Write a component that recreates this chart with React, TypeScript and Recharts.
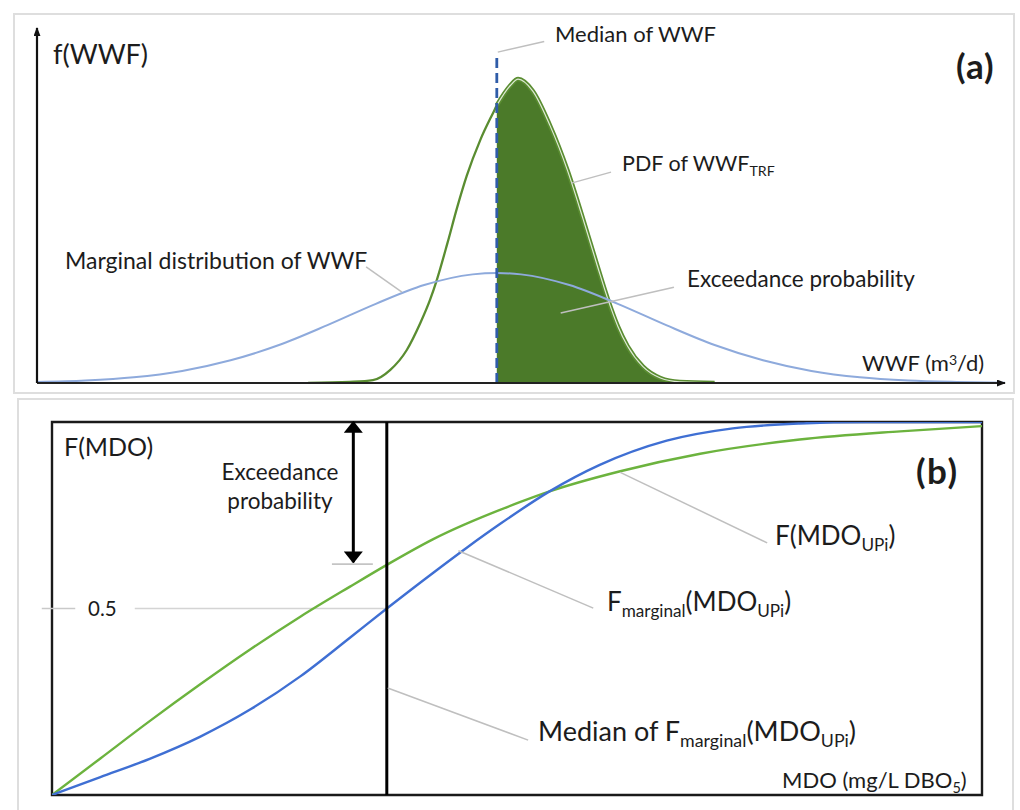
import React from "react";
import {
  ComposedChart,
  Line,
  Area,
  XAxis,
  YAxis,
  ReferenceLine,
  ReferenceArea,
} from "recharts";

// ---------- Panel (a): densities of WWF ----------
const MARGINAL_X = [0, 5, 10, 15, 20, 25, 30, 35, 40, 45, 47.5, 50, 55, 60, 65, 70, 75, 80, 85, 90, 95, 100];
const MARGINAL_Y = [0.3, 0.7, 1.6, 3.4, 6.4, 10.7, 16.3, 22.3, 27.6, 30.6, 31.0, 30.6, 27.6, 22.3, 16.3, 10.7, 6.4, 3.4, 1.6, 0.7, 0.3, 0.1];

const PDF_X = [28, 32.3, 34.7, 36.5, 38.2, 39.6, 40.6, 41.3, 42.4, 43.4, 44.4, 45.8, 47.1, 47.5, 48.9, 49.7, 51.2, 53.0, 54.8, 56.4, 57.9, 59.0, 60.0, 61.0, 62.6, 64.4, 66.4, 70];
const PDF_Y = [0, 0.3, 0.8, 3.7, 9.3, 16.9, 23.4, 29.0, 39.4, 49.4, 58.4, 68.5, 76.0, 78.2, 83.8, 85.6, 82.3, 72.5, 59.9, 46.3, 32.9, 23.4, 16.0, 10.4, 4.6, 1.4, 0.3, 0];

const MEDIAN_WWF = 47.5;

// ---------- Panel (b): CDFs of MDO ----------
const MARGINAL_CDF_X = [0, 5.2, 10.5, 15.9, 21.3, 26.7, 32.0, 36.0, 41.0, 44.6, 48.2, 53.5, 58.9, 66.1, 73.2, 80.4, 87.6, 100];
const MARGINAL_CDF_Y = [0, 0.048, 0.097, 0.156, 0.229, 0.318, 0.421, 0.5, 0.596, 0.663, 0.727, 0.814, 0.885, 0.95, 0.983, 0.996, 1.0, 1.0];

const UPI_CDF_X = [0, 5.2, 10.5, 15.9, 21.3, 26.7, 32.0, 36.0, 41.0, 50.3, 53.5, 61.1, 69.7, 80.4, 91.2, 100];
const UPI_CDF_Y = [0, 0.098, 0.198, 0.296, 0.39, 0.478, 0.558, 0.617, 0.686, 0.785, 0.814, 0.868, 0.915, 0.953, 0.975, 0.989];

const MEDIAN_MDO = 36.0;
const EXCEEDANCE_LEVEL = 0.619;

const marginalData = MARGINAL_X.map((x, i) => ({ x, y: MARGINAL_Y[i] }));
const pdfData = PDF_X.map((x, i) => ({ x, y: PDF_Y[i] }));
const pdfFillData = pdfData.filter((d) => d.x >= MEDIAN_WWF);
const marginalCdf = MARGINAL_CDF_X.map((x, i) => ({ x, y: MARGINAL_CDF_Y[i] }));
const upiCdf = UPI_CDF_X.map((x, i) => ({ x, y: UPI_CDF_Y[i] }));

const FONT = 'Lato, "Open Sans", "DejaVu Sans", sans-serif';
const LEADER = "#bfbfbf";

function Txt(props: {
  x: number;
  cy: number;
  size: number;
  bold?: boolean;
  center?: boolean;
  spacing?: number;
  children: React.ReactNode;
}) {
  const { x, cy, size, bold, center, spacing, children } = props;
  return (
    <div
      style={{
        position: "absolute",
        left: x,
        top: cy - 0.529 * size,
        fontSize: size,
        lineHeight: `${size}px`,
        fontFamily: FONT,
        fontWeight: bold ? 700 : 400,
        letterSpacing: spacing ? `${spacing}px` : undefined,
        color: "#1c1c1c",
        whiteSpace: "nowrap",
        transform: center ? "translateX(-50%)" : undefined,
        zIndex: 5,
      }}
    >
      {children}
    </div>
  );
}

const Sub = ({ children }: { children: React.ReactNode }) => (
  <span style={{ fontSize: "0.66em", position: "relative", top: "0.32em" }}>{children}</span>
);
const Sup = ({ children }: { children: React.ReactNode }) => (
  <span style={{ fontSize: "0.64em", position: "relative", top: "-0.45em" }}>{children}</span>
);

export default function App() {
  return (
    <div
      style={{
        position: "absolute",
        left: 0,
        top: 0,
        width: 1020,
        height: 810,
        background: "#fff",
        overflow: "hidden",
      }}
    >
      <svg width={0} height={0} style={{ position: "absolute" }}>
        <defs>
          <marker
            id="axisArrow"
            viewBox="0 0 10 10"
            refX={9}
            refY={5}
            markerWidth={9}
            markerHeight={7}
            markerUnits="userSpaceOnUse"
            preserveAspectRatio="none"
            orient="auto-start-reverse"
          >
            <path d="M0,0 L10,5 L0,10 z" fill="#111" />
          </marker>
          <marker
            id="bigArrow"
            viewBox="0 0 10 10"
            refX={9}
            refY={5}
            markerWidth={12}
            markerHeight={19}
            markerUnits="userSpaceOnUse"
            preserveAspectRatio="none"
            orient="auto-start-reverse"
          >
            <path d="M0,0 L10,5 L0,10 z" fill="#000" />
          </marker>
        </defs>
      </svg>

      {/* panel frames */}
      <div
        style={{
          position: "absolute",
          left: 13,
          top: 13,
          width: 1002,
          height: 381,
          border: "2px solid #dedede",
          boxSizing: "border-box",
        }}
      />
      <div
        style={{
          position: "absolute",
          left: 17,
          top: 398,
          width: 997,
          height: 430,
          border: "2px solid #dedede",
          boxSizing: "border-box",
        }}
      />

      {/* ---------- (a) ---------- */}
      <div style={{ position: "absolute", left: 0, top: 0 }}>
        <ComposedChart width={1020} height={400} margin={{ top: 28, right: 15, bottom: 17, left: 37 }}>
          <XAxis dataKey="x" type="number" domain={[0, 100]} hide allowDataOverflow />
          <YAxis type="number" domain={[0, 100]} hide allowDataOverflow />
          <Area
            data={pdfFillData}
            dataKey="y"
            type="monotone"
            fill="#4b7a29"
            fillOpacity={1}
            stroke="none"
            isAnimationActive={false}
          />
          <Line data={pdfData} dataKey="y" type="monotone" stroke="#5a8d31" strokeWidth={2.3} dot={false} activeDot={false} isAnimationActive={false} />
          <Line data={pdfFillData} dataKey="y" type="monotone" stroke="#5a8d31" strokeWidth={4.5} dot={false} activeDot={false} isAnimationActive={false} />
          <Line data={pdfFillData} dataKey="y" type="monotone" stroke="#dfead6" strokeWidth={1.2} dot={false} activeDot={false} isAnimationActive={false} />
          <Line data={marginalData} dataKey="y" type="monotone" stroke="#8eaadc" strokeWidth={2} dot={false} activeDot={false} isAnimationActive={false} />
          <ReferenceLine
            segment={[{ x: MEDIAN_WWF, y: 0 }, { x: MEDIAN_WWF, y: 92.4 }]}
            stroke="#2f5ca8"
            strokeWidth={2.8}
            strokeDasharray="10 5"
          />
          {/* axes */}
          <ReferenceLine segment={[{ x: 0, y: 0 }, { x: 100, y: 0 }]} stroke="#222" strokeWidth={2.2} markerEnd="url(#axisArrow)" />
          <ReferenceLine segment={[{ x: 0, y: 0 }, { x: 0, y: 100 }]} stroke="#111" strokeWidth={2.2} markerEnd="url(#axisArrow)" />
          {/* leaders */}
          <ReferenceLine segment={[{ x: 47.6, y: 93.2 }, { x: 52.4, y: 96.2 }]} stroke={LEADER} strokeWidth={1.5} />
          <ReferenceLine segment={[{ x: 55.2, y: 56.3 }, { x: 59.3, y: 59.4 }]} stroke={LEADER} strokeWidth={1.5} />
          <ReferenceLine segment={[{ x: 54.1, y: 19.7 }, { x: 65.8, y: 27.0 }]} stroke={LEADER} strokeWidth={1.5} />
          <ReferenceLine segment={[{ x: 34.0, y: 32.7 }, { x: 37.7, y: 25.6 }]} stroke={LEADER} strokeWidth={1.5} />
        </ComposedChart>
      </div>

      {/* ---------- (b) ---------- */}
      <div style={{ position: "absolute", left: 0, top: 400 }}>
        <ComposedChart width={1020} height={410} margin={{ top: 22, right: 38, bottom: 15, left: 52 }}>
          <XAxis dataKey="x" type="number" domain={[0, 100]} hide allowDataOverflow />
          <YAxis type="number" domain={[0, 1]} hide allowDataOverflow />
          <ReferenceArea x1={0} x2={100} y1={0} y2={1} fill="none" fillOpacity={0} stroke="#1a1a1a" strokeWidth={2.4} />
          <ReferenceLine segment={[{ x: -1.1, y: 0.5 }, { x: 2.5, y: 0.5 }]} stroke="#c9c9c9" strokeWidth={1.5} ifOverflow="visible" />
          <ReferenceLine segment={[{ x: 8.9, y: 0.5 }, { x: MEDIAN_MDO, y: 0.5 }]} stroke="#d4d4d4" strokeWidth={1.5} />
          <ReferenceLine segment={[{ x: 30.1, y: EXCEEDANCE_LEVEL }, { x: 34.5, y: EXCEEDANCE_LEVEL }]} stroke="#c4c4c4" strokeWidth={1.8} />
          <Line data={upiCdf} dataKey="y" type="monotone" stroke="#6cb33e" strokeWidth={2.4} dot={false} activeDot={false} isAnimationActive={false} />
          <Line data={marginalCdf} dataKey="y" type="monotone" stroke="#3f6fd3" strokeWidth={2.4} dot={false} activeDot={false} isAnimationActive={false} />
          <ReferenceLine x={MEDIAN_MDO} stroke="#000" strokeWidth={3} />
          <ReferenceLine
            segment={[{ x: 32.4, y: 1.0 }, { x: 32.4, y: 0.624 }]}
            stroke="#000"
            strokeWidth={3}
            markerStart="url(#bigArrow)"
            markerEnd="url(#bigArrow)"
          />
          {/* leaders */}
          <ReferenceLine segment={[{ x: 61.1, y: 0.865 }, { x: 76.9, y: 0.676 }]} stroke={LEADER} strokeWidth={1.5} />
          <ReferenceLine segment={[{ x: 43.7, y: 0.655 }, { x: 58.2, y: 0.501 }]} stroke={LEADER} strokeWidth={1.5} />
          <ReferenceLine segment={[{ x: 36.1, y: 0.287 }, { x: 51.2, y: 0.147 }]} stroke={LEADER} strokeWidth={1.5} />
        </ComposedChart>
      </div>

      {/* ---------- texts (a) ---------- */}
      <Txt x={53} cy={54} size={27}>f(WWF)</Txt>
      <Txt x={555} cy={35} size={22}>Median of WWF</Txt>
      <Txt x={956} cy={67} size={35} bold spacing={1}>(a)</Txt>
      <Txt x={622} cy={164.5} size={21.5}>
        PDF of WWF<Sub>TRF</Sub>
      </Txt>
      <Txt x={687} cy={279.5} size={22.5}>Exceedance probability</Txt>
      <Txt x={65} cy={261} size={23}>Marginal distribution of WWF</Txt>
      <Txt x={862} cy={364} size={22}>
        WWF (m<Sup>3</Sup>/d)
      </Txt>

      {/* ---------- texts (b) ---------- */}
      <Txt x={64} cy={447} size={25}>F(MDO)</Txt>
      <Txt x={280} cy={472.5} size={22.5} center>Exceedance</Txt>
      <Txt x={280} cy={502} size={22.5} center>probability</Txt>
      <Txt x={88} cy={609} size={20.5}>0.5</Txt>
      <Txt x={916} cy={472} size={35} bold spacing={1.5}>(b)</Txt>
      <Txt x={775} cy={536} size={26}>
        F(MDO<Sub>UPi</Sub>)
      </Txt>
      <Txt x={607} cy={602} size={26}>
        F<Sub>marginal</Sub>(MDO<Sub>UPi</Sub>)
      </Txt>
      <Txt x={538} cy={731.5} size={27}>
        Median of F<Sub>marginal</Sub>(MDO<Sub>UPi</Sub>)
      </Txt>
      <Txt x={782} cy={780.5} size={22}>
        MDO (mg/L DBO<Sub>5</Sub>)
      </Txt>
    </div>
  );
}
